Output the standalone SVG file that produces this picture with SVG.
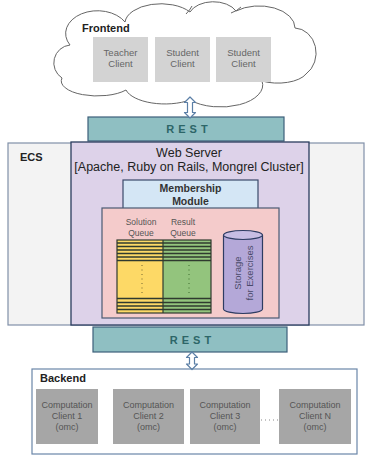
<svg xmlns="http://www.w3.org/2000/svg" width="366" height="455" viewBox="0 0 366 455">
<style>
text{font-family:"Liberation Sans",Arial,sans-serif;}
.lbl{font-size:11px;font-weight:bold;fill:#222;}
.cli{fill:#d3d3d3;}
.ctxt{font-size:9.5px;fill:#666;text-anchor:middle;}
.comp{fill:#a6a6a6;}
.comptxt{font-size:9px;fill:#555;text-anchor:middle;}
.rest{fill:#8fbfc2;stroke:#3d5f7a;stroke-width:1.2;}
.resttxt{font-size:11px;font-weight:bold;fill:#2d6668;text-anchor:middle;letter-spacing:4px;}
.arrow{fill:#fff;stroke:#5b7fa6;stroke-width:1.2;stroke-linejoin:round;}
.stripe{stroke:#2f3a2f;stroke-width:1.3;}
.dots{stroke:#8a7a3a;stroke-width:1.2;stroke-dasharray:1 3.5;}
.mid{font-size:12.5px;fill:#222;text-anchor:middle;}
.small{font-size:8.5px;fill:#555;text-anchor:middle;}
</style>
<rect width="366" height="455" fill="#fff"/>

<g id="frontend">
<path d="M 62 78 A 18 18 0 0 1 70 45 A 28 20 0 0 1 125 22 A 36 20 0 0 1 190 12 A 25 16 0 0 1 236 11 A 36 22 0 0 1 295 28 A 22 25 0 0 1 306 74 A 30 14 0 0 1 262 81 A 42 22 0 0 1 190 100 A 40 18 0 0 1 126 90 A 36 15 0 0 1 62 78 Z" fill="#fff" stroke="#666" stroke-width="1"/>
<path d="M 186 14 q 4 -4 6 -8" fill="none" stroke="#666" stroke-width="1"/>
<path d="M 231 13 q 6 -2 10 -6" fill="none" stroke="#666" stroke-width="1"/>
<text class="lbl" x="82" y="32">Frontend</text>
</g>
<g id="teacher-client">
<rect class="cli" x="93" y="37" width="55" height="45"/>
<text class="ctxt" x="120.5" y="56">Teacher</text>
<text class="ctxt" x="120.5" y="67">Client</text>
</g>
<g id="student-client-1">
<rect class="cli" x="155" y="37" width="55" height="45"/>
<text class="ctxt" x="182.5" y="56">Student</text>
<text class="ctxt" x="182.5" y="67">Client</text>
</g>
<g id="student-client-2">
<rect class="cli" x="216" y="37" width="55" height="45"/>
<text class="ctxt" x="243.5" y="56">Student</text>
<text class="ctxt" x="243.5" y="67">Client</text>
</g>

<g id="ecs">
<rect x="8" y="143" width="356" height="182" fill="#f3f3f3" stroke="#8090a8" stroke-width="1.2"/>
<text class="lbl" x="20" y="161">ECS</text>
</g>

<g id="rest-top">
<rect class="rest" x="88" y="117" width="196" height="24"/>
<text class="resttxt" x="189" y="133">REST</text>
</g>

<g id="web-server">
<rect x="71" y="142" width="238" height="183" fill="#ddd2e9" stroke="#2a3c5e" stroke-width="1.3"/>
<text class="mid" x="189" y="157">Web Server</text>
<text class="mid" x="189" y="170.5">[Apache, Ruby on Rails, Mongrel Cluster]</text>
</g>

<g id="membership-module">
<rect x="123" y="180" width="135" height="32" fill="#d4e6f5" stroke="#3a4a6a" stroke-width="1.2"/>
<text class="mid" x="190.5" y="192" style="font-size:10.5px;font-weight:bold;fill:#333">Membership</text>
<text class="mid" x="190.5" y="205" style="font-size:10.5px;font-weight:bold;fill:#333">Module</text>
</g>

<g id="processing">
<rect x="102" y="208" width="177" height="110" fill="#f4cbcb" stroke="#4a5a72" stroke-width="1.2"/>
</g>

<g id="solution-queue">
<text class="small" x="141" y="225">Solution</text>
<text class="small" x="141" y="235.5">Queue</text>
<rect x="117" y="240" width="46" height="73" fill="#fdd966"/>
<g class="stripe">
<line x1="117" y1="243" x2="163" y2="243"/><line x1="117" y1="246.5" x2="163" y2="246.5"/><line x1="117" y1="250" x2="163" y2="250"/><line x1="117" y1="253.5" x2="163" y2="253.5"/><line x1="117" y1="257" x2="163" y2="257"/><line x1="117" y1="260.5" x2="163" y2="260.5"/>
<line x1="117" y1="298.5" x2="163" y2="298.5"/><line x1="117" y1="302.5" x2="163" y2="302.5"/><line x1="117" y1="306" x2="163" y2="306"/><line x1="117" y1="309.5" x2="163" y2="309.5"/>
</g>
<line class="dots" x1="142" y1="265" x2="142" y2="296"/>
</g>

<g id="result-queue">
<text class="small" x="183" y="225">Result</text>
<text class="small" x="183" y="235.5">Queue</text>
<rect x="163" y="240" width="48" height="73" fill="#93c47d"/>
<g class="stripe">
<line x1="163" y1="243" x2="211" y2="243"/><line x1="163" y1="246.5" x2="211" y2="246.5"/><line x1="163" y1="250" x2="211" y2="250"/><line x1="163" y1="253.5" x2="211" y2="253.5"/><line x1="163" y1="257" x2="211" y2="257"/><line x1="163" y1="260.5" x2="211" y2="260.5"/>
<line x1="163" y1="298.5" x2="211" y2="298.5"/><line x1="163" y1="302.5" x2="211" y2="302.5"/><line x1="163" y1="306" x2="211" y2="306"/><line x1="163" y1="309.5" x2="211" y2="309.5"/>
</g>
<line class="dots" x1="189" y1="265" x2="189" y2="296" style="stroke:#4a7a3a"/>
<rect x="117" y="240" width="94" height="73" fill="none" stroke="#2f3a2f" stroke-width="1.2"/>
<line x1="163" y1="240" x2="163" y2="313" stroke="#2f3a2f" stroke-width="1.2"/>
</g>

<g id="storage">
<path d="M 223.5 235 L 223.5 309 A 19.5 4.5 0 0 0 262.5 309 L 262.5 235" fill="#b4a8d8" stroke="#2e3c62" stroke-width="1.2"/>
<ellipse cx="243" cy="235" rx="19.5" ry="4.5" fill="#c7bde3" stroke="#2e3c62" stroke-width="1.2"/>
<text transform="translate(243 273) rotate(-90)" style="font-size:9.5px;fill:#4a4a6a;text-anchor:middle" x="0" y="-2">Storage</text>
<text transform="translate(243 273) rotate(-90)" style="font-size:9.5px;fill:#4a4a6a;text-anchor:middle" x="0" y="10">for Exercises</text>
</g>

<g id="rest-bottom">
<rect class="rest" x="93" y="327" width="194" height="25"/>
<text class="resttxt" x="192.5" y="344">REST</text>
</g>

<g id="backend">
<rect x="32" y="369" width="325" height="85" fill="#fff" stroke="#6a86a8" stroke-width="1.2"/>
<text class="lbl" x="40" y="382">Backend</text>
</g>
<g id="computation-client-1">
<rect class="comp" x="36" y="389" width="62" height="55"/>
<text class="comptxt" x="67" y="408">Computation</text>
<text class="comptxt" x="67" y="419">Client 1</text>
<text class="comptxt" x="67" y="430">(omc)</text>
</g>
<g id="computation-client-2">
<rect class="comp" x="113" y="389" width="71" height="55"/>
<text class="comptxt" x="148.5" y="408">Computation</text>
<text class="comptxt" x="148.5" y="419">Client 2</text>
<text class="comptxt" x="148.5" y="430">(omc)</text>
</g>
<g id="computation-client-3">
<rect class="comp" x="190" y="389" width="70" height="55"/>
<text class="comptxt" x="225" y="408">Computation</text>
<text class="comptxt" x="225" y="419">Client 3</text>
<text class="comptxt" x="225" y="430">(omc)</text>
</g>
<g id="computation-client-n">
<rect class="comp" x="279" y="389" width="72" height="55"/>
<text class="comptxt" x="315" y="408">Computation</text>
<text class="comptxt" x="315" y="419">Client N</text>
<text class="comptxt" x="315" y="430">(omc)</text>
</g>

<g id="connectors">
<polygon class="arrow" points="190,97 195.5,102.5 192.5,102.5 192.5,112.5 195.5,112.5 190,118 184.5,112.5 187.5,112.5 187.5,102.5 184.5,102.5"/>
<polygon class="arrow" points="192,352 197.5,357.5 194.5,357.5 194.5,364 197.5,364 192,369.5 186.5,364 189.5,364 189.5,357.5 186.5,357.5"/>
<line x1="261" y1="420" x2="278" y2="420" stroke="#888" stroke-width="1" stroke-dasharray="1 3"/>
</g>
</svg>
